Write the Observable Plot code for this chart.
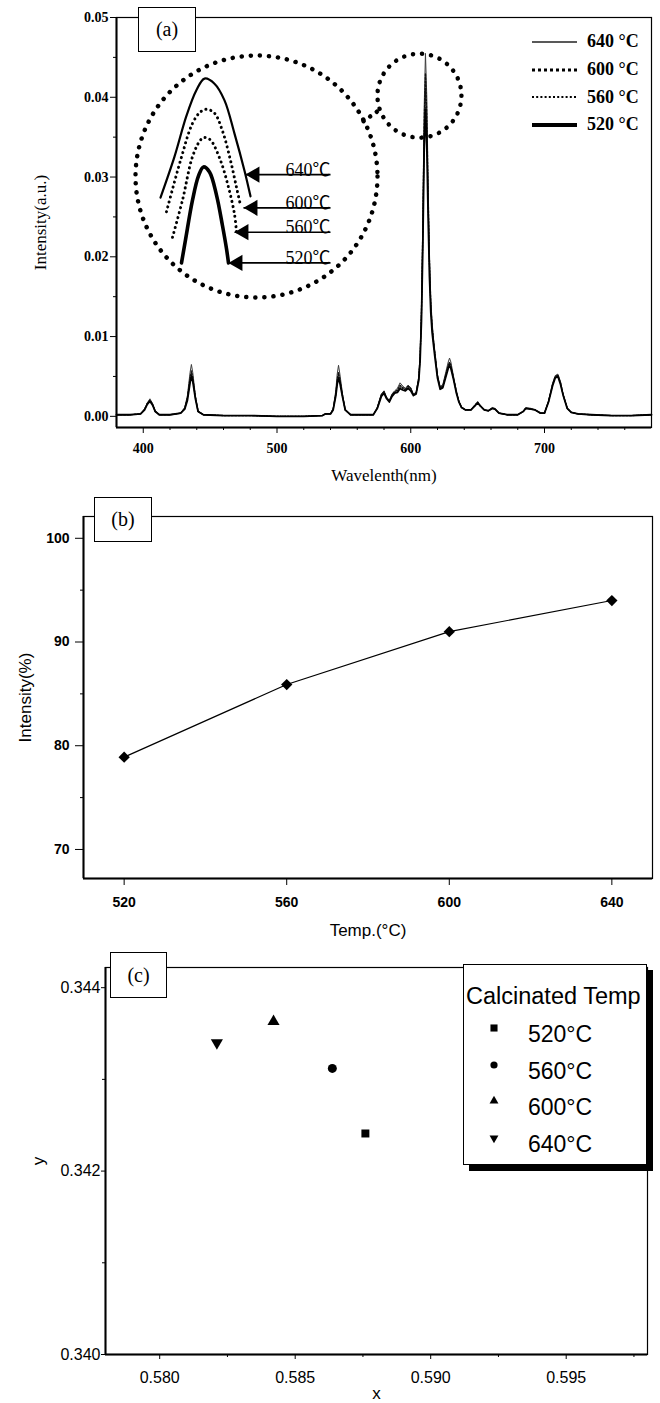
<!DOCTYPE html>
<html><head><meta charset="utf-8">
<script src="https://cdn.jsdelivr.net/npm/d3@7"></script>
<script src="https://cdn.jsdelivr.net/npm/@observablehq/plot@0.6"></script>
<style>
body{margin:0;background:#fff;}
#wrap{position:relative;width:660px;height:1403px;overflow:hidden;background:#fff;}
.box{position:absolute;background:#fff;border:1.5px solid #000;box-sizing:border-box;font-family:"Liberation Serif","Times New Roman",serif;font-size:20px;display:flex;align-items:center;justify-content:center;}
</style></head><body><div id="wrap"></div><script>
// ---------------- Panel (a): emission spectra ----------------
const wavelength = [
 380,390,398,401,403,405,407,409,412,420,
 428,431,433,435,436,437,439,441,445,460,
 480,500,520,534,536,540,542,544,545,546,
 547,549,551,555,565,572,575,578,580,582,
 584,586,588,590,592,594,596,598,600,602,
 604,606,607,608,609,610,611,612,613,614,
 615,616,617,618,620,622,624,626,628,629,
 630,632,634,636,638,641,645,648,650,652,
 655,658,661,663,666,672,680,684,686,690,
 693,697,700,703,706,708,710,712,714,717,
 720,725,735,750,765,780];
const int520 = [
 0.0002,0.0002,0.0003,0.0008,0.0015,0.0019,0.0014,0.0006,0.0002,0.0002,
 0.0004,0.0009,0.0020,0.0042,0.0050,0.0044,0.0022,0.0006,0.0002,0.0001,
 0.0001,0.0000,0.0000,0.0001,0.0003,0.0003,0.0008,0.0026,0.0040,0.0048,
 0.0042,0.0024,0.0008,0.0002,0.0002,0.0002,0.0010,0.0025,0.0029,0.0022,
 0.0018,0.0025,0.0029,0.0030,0.0035,0.0033,0.0032,0.0035,0.0032,0.0026,
 0.0028,0.0045,0.0070,0.0120,0.0210,0.0330,0.0385,0.0340,0.0250,0.0175,
 0.0130,0.0105,0.0090,0.0075,0.0048,0.0034,0.0036,0.0048,0.0060,0.0064,
 0.0060,0.0046,0.0030,0.0018,0.0011,0.0008,0.0008,0.0013,0.0017,0.0013,
 0.0008,0.0007,0.0010,0.0009,0.0004,0.0002,0.0002,0.0006,0.0010,0.0009,
 0.0008,0.0004,0.0004,0.0018,0.0038,0.0048,0.0050,0.0040,0.0026,0.0010,
 0.0005,0.0003,0.0002,0.0001,0.0001,0.0002];
const int560 = [
 0.0002,0.0002,0.0003,0.0008,0.0016,0.0020,0.0015,0.0006,0.0002,0.0002,
 0.0004,0.0010,0.0022,0.0045,0.0053,0.0046,0.0023,0.0006,0.0002,0.0001,
 0.0001,0.0000,0.0000,0.0001,0.0003,0.0003,0.0009,0.0028,0.0043,0.0052,
 0.0045,0.0025,0.0008,0.0002,0.0002,0.0002,0.0010,0.0026,0.0030,0.0023,
 0.0019,0.0026,0.0030,0.0032,0.0037,0.0035,0.0033,0.0037,0.0034,0.0027,
 0.0029,0.0047,0.0073,0.0126,0.0222,0.0350,0.0410,0.0360,0.0265,0.0185,
 0.0136,0.0110,0.0093,0.0078,0.0050,0.0035,0.0037,0.0050,0.0062,0.0066,
 0.0062,0.0047,0.0031,0.0018,0.0011,0.0008,0.0008,0.0014,0.0017,0.0013,
 0.0008,0.0007,0.0010,0.0009,0.0004,0.0002,0.0002,0.0006,0.0010,0.0009,
 0.0008,0.0004,0.0004,0.0018,0.0039,0.0049,0.0051,0.0041,0.0026,0.0010,
 0.0005,0.0003,0.0002,0.0001,0.0001,0.0002];
const int600 = [
 0.0002,0.0002,0.0003,0.0009,0.0016,0.0020,0.0015,0.0006,0.0002,0.0002,
 0.0004,0.0010,0.0023,0.0048,0.0057,0.0049,0.0024,0.0006,0.0002,0.0001,
 0.0001,0.0000,0.0000,0.0001,0.0003,0.0003,0.0009,0.0029,0.0046,0.0055,
 0.0047,0.0026,0.0008,0.0002,0.0002,0.0002,0.0011,0.0027,0.0031,0.0023,
 0.0019,0.0027,0.0031,0.0033,0.0039,0.0036,0.0034,0.0038,0.0035,0.0027,
 0.0029,0.0048,0.0075,0.0130,0.0232,0.0365,0.0430,0.0378,0.0278,0.0194,
 0.0141,0.0113,0.0095,0.0080,0.0051,0.0036,0.0038,0.0051,0.0064,0.0068,
 0.0064,0.0048,0.0032,0.0019,0.0011,0.0008,0.0008,0.0014,0.0018,0.0013,
 0.0008,0.0007,0.0010,0.0009,0.0004,0.0002,0.0002,0.0006,0.0010,0.0009,
 0.0008,0.0004,0.0004,0.0019,0.0040,0.0050,0.0052,0.0042,0.0027,0.0010,
 0.0005,0.0003,0.0002,0.0001,0.0001,0.0002];
const int640 = [
 0.0002,0.0002,0.0003,0.0009,0.0017,0.0022,0.0016,0.0007,0.0002,0.0002,
 0.0004,0.0011,0.0026,0.0055,0.0065,0.0055,0.0026,0.0007,0.0002,0.0001,
 0.0001,0.0000,0.0000,0.0001,0.0003,0.0003,0.0010,0.0033,0.0053,0.0064,
 0.0053,0.0028,0.0009,0.0002,0.0002,0.0002,0.0011,0.0028,0.0032,0.0024,
 0.0020,0.0028,0.0032,0.0035,0.0042,0.0038,0.0035,0.0039,0.0036,0.0028,
 0.0030,0.0050,0.0078,0.0136,0.0245,0.0385,0.0455,0.0400,0.0292,0.0204,
 0.0147,0.0117,0.0098,0.0082,0.0052,0.0037,0.0040,0.0054,0.0068,0.0073,
 0.0068,0.0050,0.0033,0.0019,0.0012,0.0008,0.0008,0.0014,0.0018,0.0014,
 0.0008,0.0007,0.0011,0.0010,0.0004,0.0002,0.0002,0.0006,0.0011,0.0010,
 0.0008,0.0004,0.0004,0.0019,0.0041,0.0051,0.0053,0.0043,0.0027,0.0010,
 0.0005,0.0003,0.0002,0.0001,0.0001,0.0002];
const seriesA = ["640 °C","600 °C","560 °C","520 °C"];
const xDomainA = [380, 780];
const yDomainA = [-0.0014, 0.05];
const xTicksA = [400, 500, 600, 700];
const xMinorA = [420,440,460,480,520,540,560,580,620,640,660,680,720,740,760];
const yTicksA = [0, 0.01, 0.02, 0.03, 0.04, 0.05];
const yMinorA = [0.005, 0.015, 0.025, 0.035, 0.045];
// zoom marker around the main 611 nm peak and its connector (data units of panel a)
const peakMarkW = [606.5], peakMarkV = [0.0402];
const connW = [564.7, 578.1], connV = [0.0370, 0.0386];

// inset (magnified 611 nm peak tops)
const insetXDomain = [607.5, 619.7];
const insetYDomain = [0.02832, 0.04738];
const insetCircleW = [613.6], insetCircleV = [0.03785];
const insetLambda640 = [608.8,609.5,610.1,610.6,611.0,611.5,612.0,612.5,613.0,613.3];
const insetInt640 = [0.0362,0.0394,0.0426,0.0446,0.0455,0.0451,0.0438,0.0412,0.0383,0.0363];
const insetLambda600 = [609.1,609.8,610.4,610.8,611.1,611.5,611.9,612.3,612.6,612.8];
const insetInt600 = [0.0351,0.0391,0.0420,0.0429,0.0431,0.0428,0.0414,0.0391,0.0370,0.0356];
const insetLambda560 = [609.4,609.9,610.4,610.8,611.0,611.3,611.8,612.2,612.5,612.6];
const insetInt560 = [0.0331,0.0360,0.0394,0.0407,0.0409,0.0407,0.0391,0.0370,0.0349,0.0335];
const insetLambda520 = [609.85,610.05,610.4,610.7,610.95,611.25,611.6,611.9,612.1,612.2];
const insetInt520 = [0.0311,0.0329,0.0360,0.0379,0.0386,0.0382,0.0364,0.0340,0.0322,0.0311];
const insetLabels = ["640℃","600℃","560℃","520℃"];
const arrowTipW = [613.05, 612.95, 612.5, 612.2];
const arrowTipV = [0.0380, 0.0354, 0.0335, 0.0311];
const arrowTailW = 617.3;

// ---------------- Panel (b): relative intensity ----------------
const tempsB = [520, 560, 600, 640];
const intensityPct = [78.9, 85.9, 91.0, 94.0];
const xDomainB = [510, 650];
const yDomainB = [67.2, 102.1];
const xTicksB = [520, 560, 600, 640];
const yTicksB = [70, 80, 90, 100];
const yMinorB = [75, 85, 95];

// ---------------- Panel (c): CIE chromaticity ----------------
const tempLabelsC = ["520°C","560°C","600°C","640°C"];
const cieX = [0.58759, 0.58637, 0.58420, 0.58211];
const cieY = [0.34241, 0.34312, 0.34363, 0.34340];
const symbolsC = ["square","circle","triangle","triangle"];
const rotateC = [0, 0, 0, 180];
const xDomainC = [0.578, 0.598];
const yDomainC = [0.340, 0.34422];
const xTicksC = [0.580, 0.585, 0.590, 0.595];
const xMinorC = [0.5825, 0.5875, 0.5925, 0.5975];
const yTicksC = [0.340, 0.342, 0.344];
const yMinorC = [0.341, 0.343];

// =================================================================
const wrap = document.getElementById("wrap");
function place(el, left, top){ el.style.position="absolute"; el.style.left=left+"px"; el.style.top=top+"px"; el.style.maxWidth="none"; wrap.appendChild(el); return el; }
const serif = "'Liberation Serif','Times New Roman',serif";
const sans = "'Liberation Sans',Arial,Helvetica,sans-serif";
const blank = () => "";

// ---- Panel (a)
const seriesVals = {"640 °C": int640, "600 °C": int600, "560 °C": int560, "520 °C": int520};
const lineStyle = {
  "640 °C": {stroke:"#3c3c3c", strokeWidth:1},
  "600 °C": {stroke:"#111", strokeWidth:1.3, strokeDasharray:"2,1.5"},
  "560 °C": {stroke:"#111", strokeWidth:1.1, strokeDasharray:"1.2,1.4"},
  "520 °C": {stroke:"#000", strokeWidth:1.8}
};
const rowsA = [];
seriesA.forEach(s => wavelength.forEach((w, i) => rowsA.push({s, w, v: seriesVals[s][i]})));

const plotA = Plot.plot({
  width: 660, height: 490, marginTop: 17, marginRight: 9, marginBottom: 63, marginLeft: 116,
  x: {domain: xDomainA}, y: {domain: yDomainA},
  style: {fontFamily: serif, fontSize: "14px", background: "transparent", overflow: "visible", color: "#000"},
  marks: [
    ...seriesA.map(s => Plot.line(rowsA.filter(r => r.s === s), {x: "w", y: "v", ...lineStyle[s]})),
    Plot.frame({stroke: "#000", strokeWidth: 1.2}),
    Plot.ruleX([xDomainA[0]], {stroke: "#000", strokeWidth: 2}),
    Plot.ruleY([yDomainA[0]], {stroke: "#000", strokeWidth: 2}),
    Plot.axisX({ticks: xTicksA, tickSize: 6, tickPadding: 10, fontWeight: "bold", fontSize: 14, label: null}),
    Plot.axisX({ticks: xMinorA, tickSize: 3, tickFormat: blank, label: null}),
    Plot.axisY({ticks: yTicksA, tickSize: 6, tickPadding: 2, tickFormat: d3.format(".2f"), fontWeight: "bold", fontSize: 14, label: null}),
    Plot.axisY({ticks: yMinorA, tickSize: 3, tickFormat: blank, label: null}),
    Plot.text(["Wavelenth(nm)"], {frameAnchor: "bottom", dy: 48, lineAnchor: "middle", textAnchor: "middle", fontSize: 17}),
    Plot.text(["Intensity(a.u.)"], {frameAnchor: "left", dx: -76, rotate: -90, textAnchor: "middle", lineAnchor: "middle", fontSize: 17}),
    Plot.dot(peakMarkW.map((w, i) => ({w, v: peakMarkV[i]})), {x: "w", y: "v", r: 42, fill: "none", stroke: "#000", strokeWidth: 4.5, strokeDasharray: "0.1,9", strokeLinecap: "round"}),
    Plot.line(connW.map((w, i) => ({w, v: connV[i]})), {x: "w", y: "v", stroke: "#000", strokeWidth: 4.5, strokeDasharray: "0.1,8", strokeLinecap: "round"})
  ]
});
place(plotA, 0, 0);

// inset
const insetCurves = [
  {name: "640", L: insetLambda640, I: insetInt640, style: {strokeWidth: 2.2}},
  {name: "600", L: insetLambda600, I: insetInt600, style: {strokeWidth: 3, strokeDasharray: "0.1,5", strokeLinecap: "round"}},
  {name: "560", L: insetLambda560, I: insetInt560, style: {strokeWidth: 3, strokeDasharray: "0.1,5", strokeLinecap: "round"}},
  {name: "520", L: insetLambda520, I: insetInt520, style: {strokeWidth: 3.6}}
];
const arrows = insetLabels.map((t, i) => ({t, x1: arrowTipW[i], x2: arrowTailW, y: arrowTipV[i]}));
const plotInset = Plot.plot({
  width: 256, height: 256, margin: 6,
  x: {domain: insetXDomain, axis: null}, y: {domain: insetYDomain, axis: null},
  style: {fontFamily: serif, background: "transparent", overflow: "visible", color: "#000"},
  marks: [
    Plot.dot(insetCircleW.map((w, i) => ({w, v: insetCircleV[i]})), {x: "w", y: "v", r: 121, fill: "none", stroke: "#000", strokeWidth: 4.5, strokeDasharray: "0.1,9", strokeLinecap: "round"}),
    ...insetCurves.map(c => Plot.line(c.L.map((l, i) => ({l, v: c.I[i]})), {x: "l", y: "v", stroke: "#000", curve: "catmull-rom", ...c.style})),
    Plot.link(arrows, {x1: "x1", x2: "x2", y1: "y", y2: "y", stroke: "#000", strokeWidth: 1.6}),
    Plot.dot(arrows, {x: "x1", y: "y", symbol: "triangle", rotate: -90, r: 6, dx: 9.3, fill: "#000"}),
    Plot.text(arrows, {x: "x2", y: "y", text: "t", textAnchor: "end", lineAnchor: "bottom", dy: 1, fontSize: 18, fontFamily: "'Liberation Serif','Noto Sans CJK SC',serif"})
  ]
});
place(plotInset, 128, 48);

// legend (a)
const legA = document.createElement("div");
legA.style.cssText = "position:absolute;left:530px;top:28px;font-family:" + serif + ";font-weight:bold;font-size:18px;";
const legStyles = [
  {w: 1.6, d: null, c: "#222"},
  {w: 3, d: "3,3", c: "#000"},
  {w: 2, d: "2,2.2", c: "#000"},
  {w: 4, d: null, c: "#000"}
];
seriesA.forEach((s, i) => {
  const row = document.createElement("div");
  row.style.cssText = "height:27.7px;display:flex;align-items:center;white-space:nowrap;";
  const st = legStyles[i];
  row.innerHTML = `<svg width="48" height="10" style="display:block"><line x1="2" y1="5" x2="47" y2="5" stroke="${st.c}" stroke-width="${st.w}" ${st.d ? `stroke-dasharray="${st.d}"` : ""}/></svg><span style="margin-left:9px">${s}</span>`;
  legA.appendChild(row);
});
wrap.appendChild(legA);

// ---- Panel (b)
const rowsB = tempsB.map((t, i) => ({t, v: intensityPct[i]}));
const plotB = Plot.plot({
  width: 660, height: 460, marginTop: 26, marginRight: 8, marginBottom: 72, marginLeft: 83,
  x: {domain: xDomainB}, y: {domain: yDomainB},
  style: {fontFamily: sans, fontSize: "14px", background: "transparent", overflow: "visible", color: "#000"},
  marks: [
    Plot.frame({stroke: "#000", strokeWidth: 1.2}),
    Plot.ruleX([xDomainB[0]], {stroke: "#000", strokeWidth: 2}),
    Plot.ruleY([yDomainB[0]], {stroke: "#000", strokeWidth: 2}),
    Plot.axisX({ticks: xTicksB, tickSize: 7, tickPadding: 12, fontWeight: "bold", fontSize: 14, label: null}),
    Plot.axisY({ticks: yTicksB, tickSize: 8, tickPadding: 6, fontWeight: "bold", fontSize: 14, label: null}),
    Plot.axisY({ticks: yMinorB, tickSize: 3, tickFormat: blank, label: null}),
    Plot.line(rowsB, {x: "t", y: "v", stroke: "#000", strokeWidth: 1.2}),
    Plot.dot(rowsB, {x: "t", y: "v", symbol: "square", rotate: 45, r: 4.5, fill: "#000"}),
    Plot.text(["Temp.(°C)"], {frameAnchor: "bottom", dy: 52, lineAnchor: "middle", textAnchor: "middle", fontSize: 17}),
    Plot.text(["Intensity(%)"], {frameAnchor: "left", dx: -58, rotate: -90, textAnchor: "middle", lineAnchor: "middle", fontSize: 17})
  ]
});
place(plotB, 0, 490);

// ---- Panel (c)
const rowsC = cieX.map((x, i) => ({x, y: cieY[i], sym: symbolsC[i], rot: rotateC[i]}));
const plotC = Plot.plot({
  width: 660, height: 453, marginTop: 17, marginRight: 13, marginBottom: 49, marginLeft: 105,
  x: {domain: xDomainC}, y: {domain: yDomainC},
  style: {fontFamily: sans, fontSize: "16px", background: "transparent", overflow: "visible", color: "#000"},
  marks: [
    Plot.frame({stroke: "#000", strokeWidth: 1.2}),
    Plot.ruleX([xDomainC[0]], {stroke: "#000", strokeWidth: 2}),
    Plot.ruleY([yDomainC[0]], {stroke: "#000", strokeWidth: 2}),
    Plot.axisX({ticks: xTicksC, tickSize: 5, tickPadding: 12, tickFormat: d3.format(".3f"), fontSize: 16, label: null}),
    Plot.axisX({ticks: xMinorC, tickSize: 3, tickFormat: blank, label: null}),
    Plot.axisY({ticks: yTicksC, tickSize: 4, tickPadding: 1, tickFormat: d3.format(".3f"), fontSize: 16, label: null}),
    Plot.axisY({ticks: yMinorC, tickSize: 3, tickFormat: blank, label: null}),
    ...rowsC.map(d => Plot.dot([d], {x: "x", y: "y", symbol: d.sym, rotate: d.rot, r: 4.5, fill: "#000"})),
    Plot.text(["x"], {frameAnchor: "bottom", dy: 39, lineAnchor: "middle", textAnchor: "middle", fontSize: 17}),
    Plot.text(["y"], {frameAnchor: "left", dx: -67, rotate: -90, textAnchor: "middle", lineAnchor: "middle", fontSize: 17})
  ]
});
place(plotC, 0, 950);

// legend (c)
const legC = document.createElement("div");
legC.style.cssText = "position:absolute;left:463px;top:964px;width:184px;height:201px;box-sizing:border-box;background:#fff;border:1.5px solid #000;box-shadow:6px 6px 0 #000;font-family:" + sans + ";font-size:23.5px;overflow:hidden;";
legC.innerHTML = `<div style="position:absolute;left:2px;top:18px;white-space:nowrap;line-height:26px">Calcinated Temp</div>`;
const legSymR = [4, 3.6, 3.3, 3.3];
tempLabelsC.forEach((t, i) => {
  const cy = 69 + i * 36.7;
  const path = d3.symbol(d3["symbol" + symbolsC[i][0].toUpperCase() + symbolsC[i].slice(1)], Math.PI * legSymR[i] ** 2)();
  const row = document.createElement("div");
  row.innerHTML = `<svg width="20" height="20" style="position:absolute;left:20px;top:${cy - 16}px"><path d="${path}" transform="translate(10,10) rotate(${rotateC[i]})" fill="#000"/></svg><div style="position:absolute;left:64px;top:${cy - 13}px;line-height:26px;white-space:nowrap;font-size:23px">${t}</div>`;
  legC.appendChild(row);
});
wrap.appendChild(legC);

// panel tags
[["(a)", 138, 7, 58, 45], ["(b)", 94, 497, 58, 45], ["(c)", 110, 952, 57, 46]].forEach(([t, l, tp, w, h]) => {
  const b = document.createElement("div");
  b.className = "box";
  b.style.left = l + "px"; b.style.top = tp + "px"; b.style.width = w + "px"; b.style.height = h + "px";
  b.textContent = t;
  wrap.appendChild(b);
});
</script></body></html>
